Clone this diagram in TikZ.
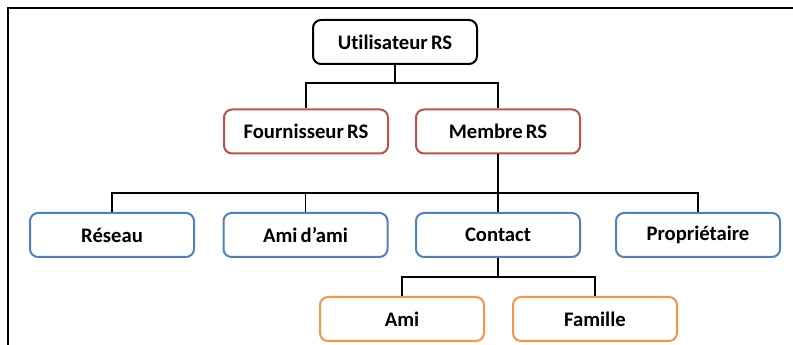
\documentclass[tikz,border=0pt]{standalone}
\usepackage{fontspec}
\setmainfont{Carlito}[Ligatures=NoCommon, WordSpace=0.7]

\definecolor{rougeRS}{RGB}{192,80,77}
\definecolor{bleuRS}{RGB}{79,129,189}
\definecolor{orangeRS}{RGB}{247,150,70}

\tikzset{every picture/.style={line width=1.5pt}}
\tikzset{boite/.style={rectangle, rounded corners=6pt, fill=white, line width=1.5pt,
    minimum width=123pt, minimum height=33pt, inner sep=0pt,
    font=\fontsize{15.5}{17}\selectfont\bfseries}}
\tikzset{lien/.style={draw=black, line width=1.5pt}}

\begin{document}
\begin{tikzpicture}[x=0.75pt,y=0.75pt,yscale=-1,xscale=1]
    \useasboundingbox (0,0) rectangle (793,345);

    %Shape: frame
    \draw[line width=1.5pt] (8,345) -- (8,8) -- (793,8);

    % Level 0
    \node[boite, draw=black] (util) at (395,42) {Utilisateur RS};
    % Level 1
    \node[boite, draw=rougeRS] (fourn) at (306,131.5) {Fournisseur RS};
    \node[boite, draw=rougeRS] (membre) at (498,131.5) {Membre RS};
    % Level 2
    \node[boite, draw=bleuRS] (reseau) at (112,235) {Réseau};
    \node[boite, draw=bleuRS] (amidami) at (305.5,235) {Ami d’ami};
    \node[boite, draw=bleuRS] (contact) at (498,235) {Contact};
    \node[boite, draw=bleuRS] (proprio) at (698,235) {Propriétaire};
    % Level 3
    \node[boite, draw=orangeRS] (ami) at (402,319) {Ami};
    \node[boite, draw=orangeRS] (famille) at (595,319) {Famille};

    % Junctions
    \coordinate (j1) at (395,83);
    \coordinate (j2) at (498,193);
    \coordinate (j3) at (498,277);

    % Connectors
    \draw[lien] (util.south) -- (j1);
    \draw[lien] (j1) -| (fourn.north);
    \draw[lien] (j1) -| (membre.north);

    \draw[lien] (membre.south) -- (contact.north);
    \draw[lien, line width=1pt] (j2) -| (reseau.north);
    \draw[lien, line width=1pt] (j2) -| (amidami.north);
    \draw[lien, line width=1pt] (j2) -| (proprio.north);

    \draw[lien] (contact.south) -- (j3);
    \draw[lien, line width=1pt] (j3) -| (ami.north);
    \draw[lien, line width=1pt] (j3) -| (famille.north);
\end{tikzpicture}
\end{document}
